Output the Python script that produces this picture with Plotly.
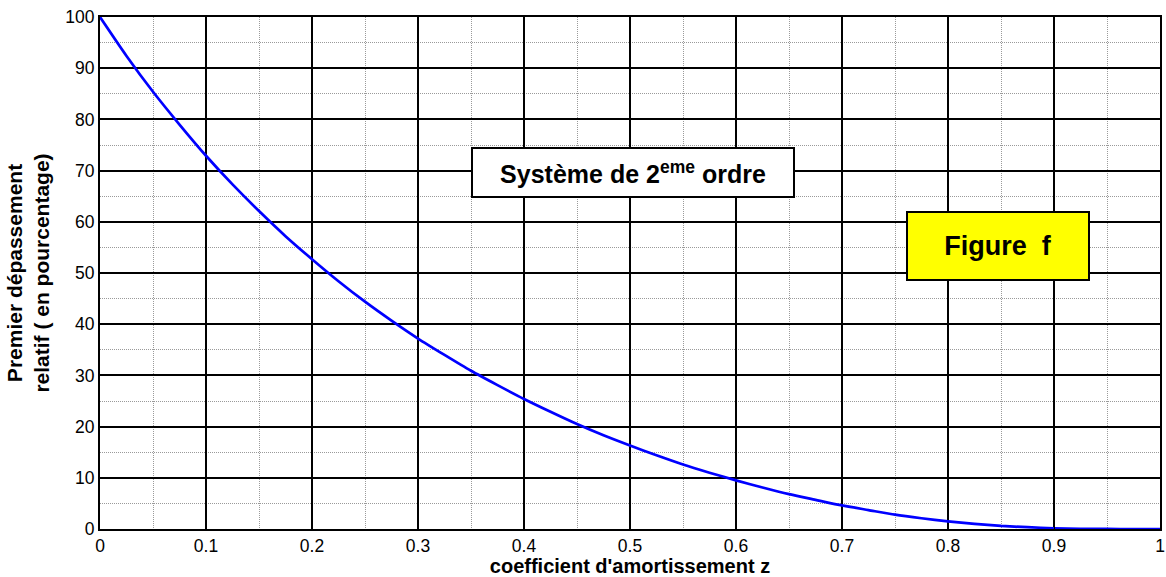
import plotly.graph_objects as go

# Damping coefficient z and first relative overshoot (%)
z = [0.0, 0.025, 0.05, 0.075, 0.1, 0.125, 0.15, 0.175, 0.2, 0.225, 0.25, 0.275,
     0.3, 0.325, 0.35, 0.375, 0.4, 0.425, 0.45, 0.475, 0.5, 0.525, 0.55, 0.575,
     0.6, 0.625, 0.65, 0.675, 0.7, 0.725, 0.75, 0.775, 0.8, 0.825, 0.85, 0.875,
     0.9, 0.925, 0.95, 0.975, 1.0]
overshoot = [100.0, 92.4, 85.4, 79.0, 72.9, 67.3, 62.1, 57.2, 52.7, 48.4, 44.4, 40.7,
             37.2, 34.0, 30.9, 28.1, 25.4, 22.9, 20.5, 18.3, 16.3, 14.4, 12.6, 11.0,
             9.5, 8.1, 6.8, 5.7, 4.6, 3.7, 2.8, 2.1, 1.5, 1.0, 0.6, 0.35,
             0.15, 0.05, 0.01, 0.0, 0.0]

x_ticks = [0, 0.1, 0.2, 0.3, 0.4, 0.5, 0.6, 0.7, 0.8, 0.9, 1]
x_ticklabels = ["0", "0.1", "0.2", "0.3", "0.4", "0.5", "0.6", "0.7", "0.8", "0.9", "1"]
y_ticks = [0, 10, 20, 30, 40, 50, 60, 70, 80, 90, 100]

font = "Liberation Sans, Arial, sans-serif"

fig = go.Figure()
fig.add_trace(go.Scatter(x=z, y=overshoot, mode="lines",
                         line=dict(color="#0000ff", width=2.7, shape="spline", smoothing=0.6),
                         showlegend=False, cliponaxis=False))

axis_common = dict(showline=True, linecolor="black", linewidth=2, mirror="ticks",
                   ticks="inside", ticklen=5, tickcolor="black", tickwidth=1,
                   showgrid=True, gridcolor="black", gridwidth=1.6, zeroline=False,
                   automargin=False,
                   tickfont=dict(family=font, size=17.5, color="black"))

fig.update_xaxes(range=[0, 1], tickvals=x_ticks, ticktext=x_ticklabels,
                 minor=dict(dtick=0.05, tick0=0, showgrid=True, gridcolor="#9a9a9a",
                            griddash="1px,1px", gridwidth=1, ticks=""),
                 title=dict(text="<b>coefficient d'amortissement z</b>",
                            font=dict(family=font, size=20, color="black"), standoff=4),
                 **axis_common)
fig.update_yaxes(range=[0, 100], tickvals=y_ticks,
                 minor=dict(dtick=5, tick0=0, showgrid=True, gridcolor="#9a9a9a",
                            griddash="1px,1px", gridwidth=1, ticks=""),
                 title=dict(text="<b>Premier dépassement<br>relatif ( en pourcentage)</b>",
                            font=dict(family=font, size=21, color="black"), standoff=10),
                 **axis_common)

fig.add_annotation(x=0.503, y=69.7, xref="x", yref="y",
                   text="<b>Système de 2<sup>eme</sup> ordre</b>", showarrow=False,
                   font=dict(family=font, size=25, color="black"),
                   bgcolor="white", bordercolor="black", borderwidth=2, borderpad=0,
                   width=320, height=47)
fig.add_annotation(x=0.847, y=55.3, xref="x", yref="y",
                   text="<b>Figure  f</b>", showarrow=False,
                   font=dict(family=font, size=27, color="black"),
                   bgcolor="#ffff00", bordercolor="black", borderwidth=2, borderpad=0,
                   width=180, height=66)

fig.update_layout(width=1166, height=577, plot_bgcolor="white", paper_bgcolor="white",
                  margin=dict(l=100, r=6, t=17, b=48))

fig.write_html("out.html", config={"displayModeBar": False},
               post_script="document.body.style.margin='0';")
